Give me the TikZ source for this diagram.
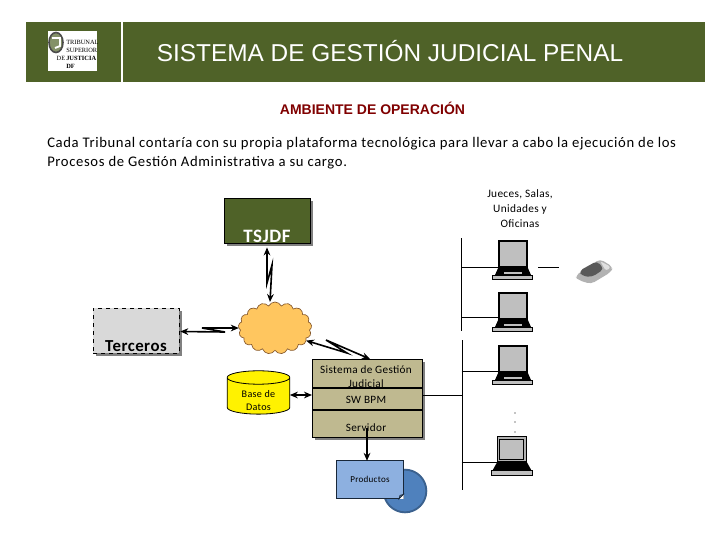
\documentclass[tikz,border=0pt]{standalone}
\usepackage{fontspec}
\setmainfont{Carlito}
\newfontfamily\headfont{Liberation Sans}
\newfontfamily\logofont{Liberation Serif}
\newfontfamily\bodyfont[LetterSpace=3]{Carlito}
\newfontfamily\parafont[LetterSpace=4.3]{Carlito}
\usepackage{xcolor}
\usetikzlibrary{shapes.geometric, shapes.symbols, arrows.meta, positioning, backgrounds}
\definecolor{bandgreen}{HTML}{4F6228}
\definecolor{sandbox}{HTML}{BFB990}
\definecolor{cloudfill}{HTML}{FFC65F}
\definecolor{docblue}{HTML}{8DB0E0}
\definecolor{diskblue}{HTML}{4F81BD}
\tikzset{
  px/.style={x=0.75pt, y=-0.75pt},
  band/.style={rectangle, fill=bandgreen, inner sep=0pt, outer sep=0pt},
  title/.style={font=\headfont\fontsize{18.3}{22}\selectfont, text=white, inner sep=0pt},
  subtitle/.style={font=\headfont\bfseries\fontsize{10.5}{12}\selectfont, text=red!50!black, inner sep=0pt},
  para/.style={font=\parafont\fontsize{11}{14.2}\selectfont, align=left, anchor=north west, inner sep=0pt},
  smalltxt/.style={font=\bodyfont\fontsize{7.6}{10}\selectfont, align=center, inner sep=0pt},
  midtxt/.style={font=\bodyfont\fontsize{8.4}{11.2}\selectfont, align=center, inner sep=0pt},
  logotxt/.style={font=\logofont\fontsize{4.8}{6}\selectfont, align=left, inner sep=0pt, anchor=north west},
  sysbox/.style={rectangle, draw=black, fill=sandbox, line width=0.7pt, inner sep=0pt, outer sep=0pt,
                 minimum width=82.5pt, minimum height=58.5pt},
  swbox/.style={rectangle, draw=black, line width=0.8pt, fill=sandbox, inner sep=0pt, outer sep=0pt,
                minimum width=83pt, minimum height=16.5pt},
  link/.style={{Stealth[length=6pt,width=5pt]}-{Stealth[length=6pt,width=5pt]}, line width=1.2pt},
  wire/.style={line width=0.75pt},
  pcspot/.style={rectangle, minimum width=21pt, minimum height=28pt, inner sep=0pt, outer sep=0pt},
  pics/laptop/.style={code={
    \draw[line width=1.1pt, fill=black!25] (7,0) rectangle (35,26);
    \fill[black] (7,25) -- (35,25) -- (39,34) -- (3,34) -- cycle;
    \draw[line width=0.7pt, fill=black!25] (0,34) rectangle (40.5,38);
    \fill[black!25] (12,31) rectangle (30,32.5);
  }},
  pics/laptopold/.style={code={
    \draw[line width=0.9pt, fill=black!30] (6,0) rectangle (35,25);
    \draw[line width=0.8pt, fill=black!25] (8,3) rectangle (32,23);
    \fill[black] (6,25) -- (35,25) -- (40,34) -- (1,34) -- cycle;
    \draw[line width=0.7pt, fill=black!25] (0,34) rectangle (40.5,39);
  }},
}
\begin{document}
\begin{tikzpicture}[px, node distance=6pt and 6pt]
  \useasboundingbox (0,0) rectangle (720,540);

  \node[band, minimum width=71.25pt, minimum height=45pt] (logoband) at (73.5,52) {};
  \node[band, minimum width=436.5pt, minimum height=45pt] (titleband) at (414,52) {};
  \node[title] (titletxt) at (390,51) {SISTEMA DE GESTIÓN JUDICIAL PENAL};
  \node[rectangle, fill=white, minimum width=36.75pt, minimum height=30pt, inner sep=0pt] (logo) at (72.5,51) {};
  \draw[fill=bandgreen!70, draw=black!70, line width=1.2pt] (56,42.5) ellipse (7 and 10);
  \draw[white, line width=1.4pt] (52,38) -- (60,38) -- (60,46) -- (55,48);
  \node[logotxt] (logotxt) at (66,40.5) {TRIBUNAL\\SUPERIOR\\\llap{DE\,}\textbf{JUSTICIA}\\\textbf{DF}};

  \node[subtitle] (subt) at (372.5,108) {AMBIENTE DE OPERACIÓN};
  \node[para] (intro) at (47,137) {Cada Tribunal contaría con su propia plataforma tecnológica para llevar a cabo la ejecución de los\\Procesos de Gestión Administrativa a su cargo.};

  \node[rectangle, draw=black, fill=bandgreen, minimum width=64.5pt, minimum height=34pt, inner sep=0pt,
        label={[font=\bodyfont\bfseries\fontsize{14.2}{15}\selectfont, inner sep=0.5pt, text=white, anchor=south]south:TSJDF}] (tsjdf) at (267,220.5) {};
  \node[rectangle, draw=black, dashed, fill=black!15, minimum width=64.5pt, minimum height=33.75pt, inner sep=0pt,
        label={[font=\bodyfont\bfseries\fontsize{12.6}{14}\selectfont, inner sep=1pt, anchor=south]south:Terceros}] (terceros) at (136,330.5) {};
  \node[cloud, cloud puffs=17, cloud puff arc=130, aspect=1.4, draw=brown!70!black, line width=0.5pt, fill=cloudfill,
        minimum width=55pt, minimum height=39pt, inner sep=0pt, outer sep=0pt] (red) at (275,328) {};

  \node[sysbox] (sgj) at (367,398) {};
  \node[midtxt, anchor=north] (sgjtxt) at (366,365) {Sistema de Gestión\\Judicial};
  \node[swbox] (sw) at (367.5,399) {};
  \node[midtxt] (swtxt) at (366,400) {SW BPM};
  \node[midtxt] (srvtxt) at (366,428) {Servidor};

  \node[cylinder, shape border rotate=90, aspect=0.4, draw=black, fill=yellow, line width=0.6pt,
        minimum width=47pt, minimum height=32.5pt, inner sep=0pt, outer sep=0pt, align=center,
        font=\bodyfont\fontsize{7.6}{10}\selectfont] (bd) at (258.5,396) {\phantom{Base de}\\\phantom{Datos}};
  \node[smalltxt] (bdtxt) at (258.5,400.5) {Base de\\Datos};

  \node[circle, draw=diskblue!75!black, line width=1.4pt, fill=diskblue, minimum size=32pt, inner sep=0pt] (disco) at (405,491) {};
  \node[rectangle, draw=black!70!diskblue, line width=0.6pt, fill=docblue, minimum width=50.25pt, minimum height=28.5pt, inner sep=0pt,
        outer sep=0pt, below=21.5pt of srvtxt.south, xshift=3pt, font=\bodyfont\fontsize{6.8}{8}\selectfont] (prod) {Productos};
  \fill[white] (prod.south east) -- ++(-4.5,0) -- ++(4.5,-4.5) -- cycle;
  \draw[line width=0.5pt, draw=black!70!diskblue, fill=docblue!70!black] (prod.south east) ++(-4.5,0) -- ++(1,-3.5) -- ++(3.5,-1) -- cycle;

  \node[smalltxt, font=\bodyfont\fontsize{8.5}{11.2}\selectfont] (jueces) at (520,209) {Jueces, Salas,\\Unidades y\\Oficinas};

  \coordinate (busa) at (461,238);
  \coordinate (busb) at (461,331);
  \coordinate (busc) at (462,340);
  \coordinate (busd) at (462,490);
  \draw[wire] (busa) -- (busb);
  \draw[wire] (busc) -- (busd);

  \foreach \n/\ypc/\ybus in {1/241/267, 2/293/317, 3/346/371}{
    \pic at (492,\ypc) {laptop};
    \node[pcspot, anchor=north west] (pc\n) at (499,\ypc) {};
    \coordinate (tap\n) at (461.5,\ybus);
    \draw[wire] (tap\n) -- (tap\n -| pc\n.west);
  }
  \pic at (491.5,436.5) {laptopold};
  \node[pcspot, anchor=north west] (pc4) at (497,436.5) {};
  \coordinate (tap4) at (461.5,462);
  \draw[wire] (tap4) -- (tap4 -| pc4.west);
  \coordinate (tapsrv) at (461.5,395);
  \draw[wire] (sw.east |- tapsrv) -- (tapsrv);

  \foreach \n/\ydot in {1/413, 2/422, 3/432}{
    \node[circle, fill=black, minimum size=1pt, inner sep=0pt] (dot\n) at (515,\ydot) {};
  }

  \coordinate (scanstart) at (538,267);
  \coordinate (scanend) at (559,267);
  \draw[wire] (scanstart) -- (scanend);
  \fill[black!30, rounded corners=3pt] (575,276) -- (600,259) -- (613,267) -- (611,272) -- (591,284) -- (578,280) -- cycle;
  \fill[black!65, rounded corners=3pt] (579,271) -- (597,261) -- (604,269) -- (592,277) -- (582,276) -- cycle;
  \fill[black!12, rounded corners=2pt] (600,261) -- (611,267) -- (606,271) -- cycle;

  \coordinate (ja) at (267,283);
  \coordinate (jb) at (272,265);
  \draw[link] (tsjdf.south) ++(0,4) -- (ja) -- (jb) -- (red.north -| 270,0);
  \coordinate (jc) at (225,332);
  \coordinate (jd) at (202,328);
  \draw[link] (terceros.east) ++(1,1) -- (jc) -- (jd) -- (red.west);
  \coordinate (je) at (347,353);
  \coordinate (jf) at (326,340);
  \draw[link] (red.-22) -- (je) -- (jf) -- (sgj.north -| 370,0);
  \draw[link] (bd.east |- 0,395) -- (sgj.west |- 0,395);
  \draw[-{Stealth[length=6pt,width=5pt]}, line width=1.3pt] (srvtxt.center -| 367,0) -- (prod.north -| 367,0);

  \begin{scope}[on background layer]
    \fill[white] (0,0) rectangle (720,540);
    \foreach \n in {tsjdf, terceros, sgj}{
      \fill[black!50] ([shift={(3,3)}]\n.north west) rectangle ([shift={(3,3)}]\n.south east);
    }
  \end{scope}
\end{tikzpicture}
\end{document}
